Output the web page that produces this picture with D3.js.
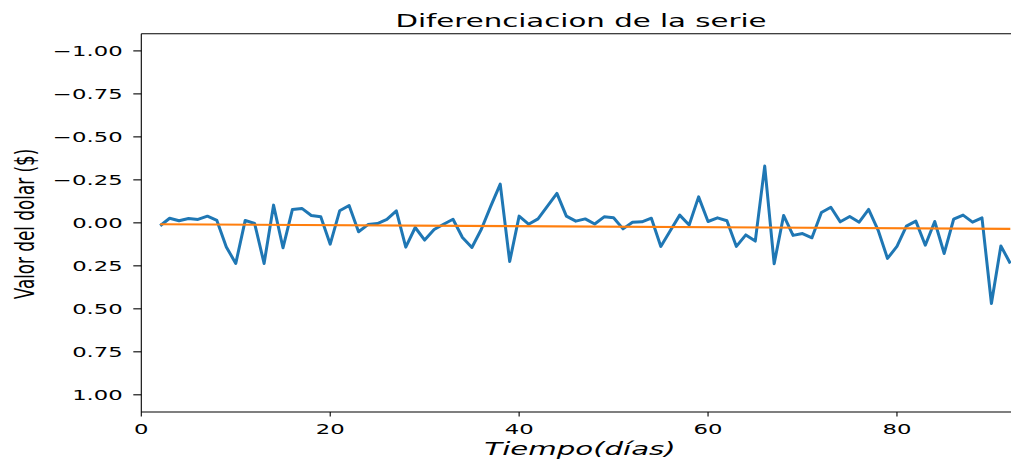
<!DOCTYPE html>
<html>
<head>
<meta charset="utf-8">
<script src="https://cdn.jsdelivr.net/npm/d3@7"></script>
<style>
  html, body { margin: 0; padding: 0; background: #fff; }
  svg { display: block; }
  text { font-family: "DejaVu Sans", sans-serif; fill: #000; }
</style>
</head>
<body>
<svg id="chart" width="1011" height="463"></svg>
<script>
// ---- data ----
const days = [2,3,4,5,6,7,8,9,10,11,12,13,14,15,16,17,18,19,20,21,22,23,24,25,26,27,28,29,30,31,32,33,34,35,36,37,38,39,40,41,42,43,44,45,46,47,48,49,50,51,52,53,54,55,56,57,58,59,60,61,62,63,64,65,66,67,68,69,70,71,72,73,74,75,76,77,78,79,80,81,82,83,84,85,86,87,88,89,90,91,92];
const diffValues = [0.017,-0.027,-0.012,-0.025,-0.020,-0.039,-0.014,0.140,0.236,-0.014,0.004,0.236,-0.103,0.145,-0.078,-0.084,-0.043,-0.035,0.124,-0.070,-0.101,0.052,0.010,0.004,-0.020,-0.070,0.141,0.027,0.100,0.039,0.008,-0.021,0.085,0.143,0.037,-0.097,-0.225,0.225,-0.039,0.008,-0.023,-0.097,-0.171,-0.039,-0.010,-0.023,0.007,-0.035,-0.030,0.035,-0.004,-0.006,-0.027,0.137,0.046,-0.045,0.013,-0.151,-0.008,-0.029,-0.012,0.137,0.070,0.106,-0.330,0.238,-0.043,0.073,0.062,0.087,-0.060,-0.091,-0.006,-0.037,-0.004,-0.078,0.042,0.207,0.137,0.019,-0.010,0.130,-0.008,0.178,-0.021,-0.045,-0.004,-0.029,0.469,0.134,0.236];
const trendDays = [2, 92];
const trendValues = [0.008, 0.035];
const yTicks = [-1.00,-0.75,-0.50,-0.25,0.00,0.25,0.50,0.75,1.00];
const xTicks = [0,20,40,60,80];
const titleText = "Diferenciacion de la serie";
const xLabelText = "Tiempo(días)";
const yLabelText = "Valor del dolar ($)";

// ---- layout ----
const L = 141.3, R = 1020.7, T = 33.7, B = 412;
const SX = 1.6;   // horizontal stretch of the reference
const svg = d3.select("#chart");

const x = d3.scaleLinear().domain([0, 93.1]).range([L, R]);
const y = d3.scaleLinear().domain([-1.1, 1.1]).range([T, B]);

// lines
const line = d3.line().x(d => x(d[0])).y(d => y(d[1]));
svg.append("path")
  .datum(days.map((d, i) => [d, diffValues[i]]))
  .attr("fill", "none").attr("stroke", "#1f77b4")
  .attr("stroke-width", 3).attr("stroke-linejoin", "round").attr("stroke-linecap", "butt")
  .attr("d", line);
svg.append("path")
  .datum(trendDays.map((d, i) => [d, trendValues[i]]))
  .attr("fill", "none").attr("stroke", "#ff7f0e")
  .attr("stroke-width", 2.2)
  .attr("d", line);

// spines
svg.append("line").attr("x1", L).attr("x2", L).attr("y1", T).attr("y2", B)
  .attr("stroke", "#000").attr("stroke-width", 1.1);
svg.append("line").attr("x1", L).attr("x2", R).attr("y1", B).attr("y2", B)
  .attr("stroke", "#000").attr("stroke-width", 1.1);
svg.append("line").attr("x1", L).attr("x2", R).attr("y1", T).attr("y2", T)
  .attr("stroke", "#000").attr("stroke-width", 1.1);

// y axis ticks
const fmt = v => (v < 0 ? "\u2212" : "") + Math.abs(v).toFixed(2);
const yg = svg.append("g");
yTicks.forEach(v => {
  const yy = y(v);
  yg.append("line").attr("x1", L - 8).attr("x2", L).attr("y1", yy).attr("y2", yy)
    .attr("stroke", "#000").attr("stroke-width", 1.1);
  yg.append("text")
    .attr("transform", `translate(${122.7},${yy + 5.2}) scale(${SX},1)`)
    .attr("text-anchor", "end").attr("font-size", 14.2)
    .text(fmt(v));
});

// x axis ticks
const xg = svg.append("g");
xTicks.forEach(v => {
  const xx = x(v);
  xg.append("line").attr("x1", xx).attr("x2", xx).attr("y1", B).attr("y2", B + 4.5)
    .attr("stroke", "#000").attr("stroke-width", 1.1);
  xg.append("text")
    .attr("transform", `translate(${xx},${433.5}) scale(${SX},1)`)
    .attr("text-anchor", "middle").attr("font-size", 14.2)
    .text(v);
});

// title
svg.append("text")
  .attr("transform", `translate(581,26.5) scale(1.58,1)`)
  .attr("text-anchor", "middle").attr("font-size", 18.5)
  .text(titleText);

// x label
svg.append("text")
  .attr("transform", `translate(580,455) scale(1.58,1)`)
  .attr("text-anchor", "middle").attr("font-size", 18.5).attr("font-style", "italic")
  .text(xLabelText);

// y label
svg.append("text")
  .attr("transform", `translate(33.8,224) scale(${SX},1) rotate(-90)`)
  .attr("text-anchor", "middle").attr("font-size", 16.8)
  .text(yLabelText);
</script>
</body>
</html>
